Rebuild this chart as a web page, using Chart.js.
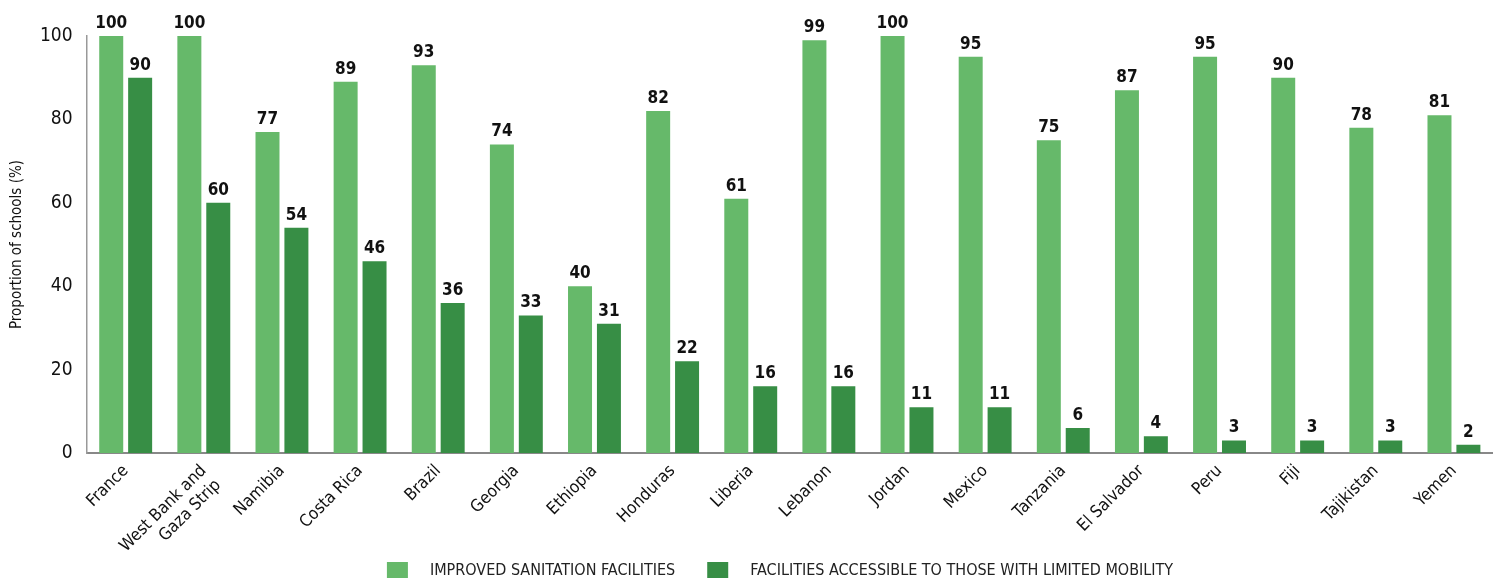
<!DOCTYPE html>
<html>
<head>
<meta charset="utf-8">
<script src="https://cdn.jsdelivr.net/npm/chart.js@4/dist/chart.umd.min.js"></script>
<style>
  html, body { margin: 0; padding: 0; background: #fff; }
  #wrap { width: 1493px; height: 579px; position: relative; }
</style>
</head>
<body>
<div id="wrap"><canvas id="chart"></canvas></div>
<script>
const countries = [
  "France", ["West Bank and", "Gaza Strip"], "Namibia", "Costa Rica", "Brazil",
  "Georgia", "Ethiopia", "Honduras", "Liberia", "Lebanon", "Jordan", "Mexico",
  "Tanzania", "El Salvador", "Peru", "Fiji", "Tajikistan", "Yemen"
];
const improved = [100, 100, 77, 89, 93, 74, 40, 82, 61, 99, 100, 95, 75, 87, 95, 90, 78, 81];
const accessible = [90, 60, 54, 46, 36, 33, 31, 22, 16, 16, 11, 11, 6, 4, 3, 3, 3, 2];
const yTicks = [0, 20, 40, 60, 80, 100];

const FONT = "'Liberation Sans Narrow', 'DejaVu Sans Condensed', 'Roboto', sans-serif";
const LIGHT = "#66b96a";
const DARK = "#378e45";

// draws the value above each bar
const valueLabels = {
  id: "valueLabels",
  afterDatasetsDraw(chart) {
    const ctx = chart.ctx;
    ctx.save();
    ctx.font = "bold 17px " + FONT;
    ctx.fillStyle = "#111";
    ctx.textAlign = "center";
    ctx.textBaseline = "bottom";
    chart.data.datasets.forEach((ds, i) => {
      chart.getDatasetMeta(i).data.forEach((bar, j) => {
        ctx.fillText(ds.data[j], bar.x, bar.y - 4);
      });
    });
    ctx.restore();
  }
};

// legend along the bottom edge, with the spacing of the original
const bottomLegend = {
  id: "bottomLegend",
  afterDraw(chart) {
    const ctx = chart.ctx;
    ctx.save();
    ctx.font = "16px " + FONT;
    ctx.textBaseline = "middle";
    const items = chart.data.datasets.map(ds => ({
      text: ds.label, color: ds.backgroundColor, w: ctx.measureText(ds.label).width
    }));
    const boxW = 21, boxH = 16, gapText = 22, gapItem = 32;
    const total = items.reduce((s, it) => s + boxW + gapText + it.w, 0) + gapItem * (items.length - 1);
    let x = 780 - total / 2;
    const y = 570;
    items.forEach(it => {
      ctx.fillStyle = it.color;
      ctx.fillRect(x, y - boxH / 2, boxW, boxH);
      ctx.fillStyle = "#222";
      ctx.fillText(it.text, x + boxW + gapText, y + 1);
      x += boxW + gapText + it.w + gapItem;
    });
    ctx.restore();
  }
};

new Chart(document.getElementById("chart"), {
  type: "bar",
  data: {
    labels: countries,
    datasets: [
      { label: "IMPROVED SANITATION FACILITIES", data: improved, backgroundColor: LIGHT },
      { label: "FACILITIES ACCESSIBLE TO THOSE WITH LIMITED MOBILITY", data: accessible, backgroundColor: DARK }
    ]
  },
  options: {
    responsive: true,
    maintainAspectRatio: false,
    animation: false,
    categoryPercentage: 0.74,
    barPercentage: 0.83,
    layout: { padding: { top: 36, right: 0, left: 4, bottom: 0 } },
    plugins: {
      tooltip: { enabled: false },
      legend: { display: false }
    },
    scales: {
      x: {
        grid: { display: false, drawTicks: false },
        border: { color: "#888", width: 2 },
        afterFit: (axis) => { axis.height = 126; },
        ticks: {
          color: "#111",
          font: { family: FONT, size: 17 },
          minRotation: 45,
          maxRotation: 45,
          padding: 8,
          autoSkip: false
        }
      },
      y: {
        min: 0,
        max: 100,
        afterBuildTicks: (axis) => { axis.ticks = yTicks.map(v => ({ value: v })); },
        grid: { display: false, drawTicks: false },
        border: { color: "#999", width: 1.5 },
        ticks: {
          color: "#111",
          font: { family: FONT, size: 19 },
          padding: 14
        },
        title: {
          display: true,
          text: "Proportion of schools (%)",
          color: "#111",
          font: { family: FONT, size: 15 },
          padding: { bottom: 0 }
        }
      }
    }
  },
  plugins: [valueLabels, bottomLegend]
});
</script>
</body>
</html>
